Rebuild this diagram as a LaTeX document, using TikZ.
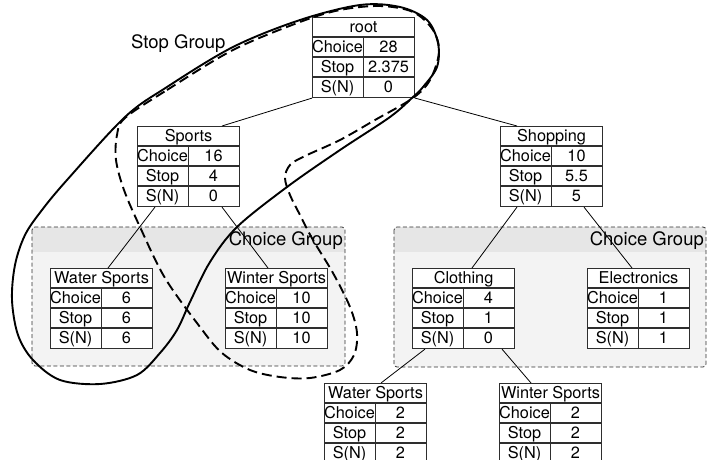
\documentclass[tikz,border=0pt]{standalone}
\usepackage{fontspec}
\setmainfont{TeX Gyre Heros}
\definecolor{bandgray}{HTML}{E6E6E6}
\definecolor{bodygray}{HTML}{F3F3F3}
\definecolor{rulegray}{HTML}{2E2E2E}
\tikzset{
  tblbox/.style={draw=rulegray, line width=1.1pt, fill=white, inner sep=0pt,
    minimum width=102pt, minimum height=80pt, anchor=north west},
  tblrule/.style={draw=rulegray, line width=1.1pt},
  cell/.style={inner sep=0pt, anchor=base, font=\fontsize{16.3}{18}\selectfont},
  edge/.style={draw=black, line width=0.8pt},
  grouptitle/.style={inner sep=0pt, anchor=base east, font=\fontsize{18.5}{20}\selectfont},
  groupline/.style={draw=rulegray, line width=0.8pt, dash pattern=on 4pt off 2.5pt},
  stoploop/.style={draw=black, line width=1.9pt},
  choiceloop/.style={draw=black, line width=1.9pt, dash pattern=on 10pt off 5pt}
}
% A node table: name, left x, top y, title, Choice, Stop, S(N)
\newcommand\infotable[7]{%
  \node[tblbox] (#1) at (#2,#3) {};
  \draw[tblrule]
    ([yshift=-20pt]#1.north west) -- ([yshift=-20pt]#1.north east)
    ([yshift=-40pt]#1.north west) -- ([yshift=-40pt]#1.north east)
    ([yshift=-60pt]#1.north west) -- ([yshift=-60pt]#1.north east)
    ([yshift=-20pt]#1.north) -- (#1.south);
  \node[cell] (#1-t) at ([yshift=-15.5pt]#1.north) {#4};
  \node[cell] (#1-ck) at ([xshift=25.5pt,yshift=-35.5pt]#1.north west) {Choice};
  \node[cell] (#1-cv) at ([xshift=76.5pt,yshift=-35.5pt]#1.north west) {#5};
  \node[cell] (#1-sk) at ([xshift=25.5pt,yshift=-55.5pt]#1.north west) {Stop};
  \node[cell] (#1-sv) at ([xshift=76.5pt,yshift=-55.5pt]#1.north west) {#6};
  \node[cell] (#1-nk) at ([xshift=25.5pt,yshift=-75.5pt]#1.north west) {S(N)};
  \node[cell] (#1-nv) at ([xshift=76.5pt,yshift=-75.5pt]#1.north west) {#7};
}
% A shaded, dashed group box with its title band
\newcommand\choicebox[4]{%
  \begin{scope}
    \clip[rounded corners=3pt] (#1,#2) rectangle (#3,#4);
    \fill[bodygray] (#1,#2) rectangle (#3,#4);
    \fill[bandgray] (#1,#2) rectangle (#3,#2+25);
  \end{scope}
  \draw[groupline, rounded corners=3pt] (#1,#2) rectangle (#3,#4);
}
\begin{document}
\begin{tikzpicture}[x=1pt,y=-1pt]
\useasboundingbox (0,0) rectangle (707,460);
\begin{scope}
\clip (0,0) rectangle (707,460);

% choice groups
\choicebox{32}{227}{345}{366}
\node[grouptitle] (cg1) at (343,245) {Choice Group};
\choicebox{394}{227}{706}{367}
\node[grouptitle] (cg2) at (704,245) {Choice Group};

% tables
\infotable{root}{312}{17}{root}{28}{2.375}{0}
\infotable{sports}{137}{126}{Sports}{16}{4}{0}
\infotable{shopping}{500}{126}{Shopping}{10}{5.5}{5}
\infotable{water}{50}{268}{Water Sports}{6}{6}{6}
\infotable{winter}{225}{268}{Winter Sports}{10}{10}{10}
\infotable{clothing}{412}{268}{Clothing}{4}{1}{0}
\infotable{electronics}{587}{268}{Electronics}{1}{1}{1}
\infotable{water2}{324}{383}{Water Sports}{2}{2}{2}
\infotable{winter2}{499}{383}{Winter Sports}{2}{2}{2}

% tree edges
\draw[edge] (root.south west) -- ([xshift=85pt]sports.north west);
\draw[edge] (root.south east) -- ([xshift=17pt]shopping.north west);
\draw[edge] ([xshift=18pt]sports.south west) -- ([xshift=58pt]water.north west);
\draw[edge] ([xshift=85pt]sports.south west) -- ([xshift=43pt]winter.north west);
\draw[edge] ([xshift=17pt]shopping.south west) -- ([xshift=60pt]clothing.north west);
\draw[edge] ([xshift=84pt]shopping.south west) -- ([xshift=45pt]electronics.north west);
\draw[edge] ([xshift=13pt]clothing.south west) -- ([xshift=57pt]water2.north west);
\draw[edge] ([xshift=90pt]clothing.south west) -- ([xshift=32pt]winter2.north west);

% stop group outline
\node[inner sep=0pt, anchor=base west, font=\fontsize{18.5}{20}\selectfont] (sg) at (131,49) {Stop Group};
\draw[stoploop] plot[smooth cycle, tension=0.55] coordinates {
  (360,5) (400,7) (427,20) (438,43) (437,67) (423,87) (413,97) (390,117)
  (340,150) (287,187) (237,227) (210,262) (190,302) (177,330) (160,353)
  (137,375) (100,384) (60,380) (33,360) (18,335) (12,300) (15,265) (25,235)
  (42,210) (67,180) (125,117) (167,87) (233,47) (300,20)};
% choice outline across the sports subtree
\draw[choiceloop] plot[smooth cycle, tension=0.55] coordinates {
  (125,118) (167,90) (233,50) (300,22) (340,10) (380,6) (413,12) (433,30)
  (439,52) (430,80) (413,98) (375,120) (340,140) (305,156) (290,165)
  (285,178) (290,195) (300,215) (313,240) (333,273) (350,307) (357,333)
  (354,355) (340,370) (310,378) (280,377) (250,370) (222,353) (200,327)
  (165,278) (140,227) (124,190) (116,160) (117,135)};
\end{scope}
\end{tikzpicture}
\end{document}
